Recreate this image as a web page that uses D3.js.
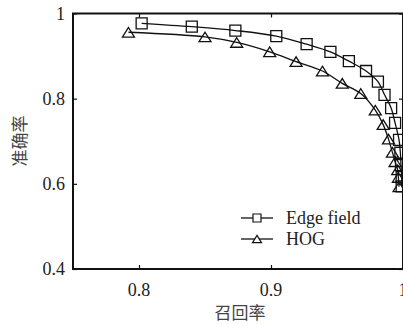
<!DOCTYPE html>
<html>
<head>
<meta charset="utf-8">
<script src="https://cdn.jsdelivr.net/npm/d3@7"></script>
<style>
  body { margin: 0; background: #fff; }
  svg { display: block; }
</style>
</head>
<body>
<svg id="chart"></svg>
<script>
// recall (x) / precision (y) pairs
var edgeRecall = [0.802, 0.840, 0.873, 0.904, 0.927, 0.945, 0.959, 0.972, 0.981, 0.986, 0.991, 0.994, 0.997, 0.998, 0.9985, 0.999, 0.999];
var edgePrecision = [0.977, 0.969, 0.960, 0.947, 0.928, 0.910, 0.888, 0.865, 0.840, 0.809, 0.778, 0.743, 0.703, 0.673, 0.644, 0.616, 0.594];
var hogRecall = [0.792, 0.850, 0.874, 0.899, 0.919, 0.939, 0.954, 0.968, 0.979, 0.985, 0.989, 0.992, 0.994, 0.996, 0.9965, 0.997];
var hogPrecision = [0.956, 0.945, 0.932, 0.910, 0.887, 0.865, 0.836, 0.812, 0.773, 0.739, 0.705, 0.674, 0.652, 0.633, 0.615, 0.593];
var xTicks = [0.8, 0.9, 1];
var yTicks = [0.4, 0.6, 0.8, 1];
var seriesNames = ['Edge field', 'HOG'];

var width = 403, height = 325;
var serif = 'Liberation Serif, DejaVu Serif, serif';
var cjk = 'Noto Sans CJK SC';
var svg = d3.select('#chart').attr('width', width).attr('height', height);

var x = d3.scaleLinear().domain([0.75, 1]).range([73, 403]);
var y = d3.scaleLinear().domain([0.4, 1]).range([269, 13.5]);

var fmt = d => d === 1 ? '1' : d3.format('.1f')(d);

// axes, ticks pointing into the plot
svg.append('g')
    .attr('transform', `translate(0, ${y(0.4)})`)
    .call(d3.axisTop(x).tickValues(xTicks).tickSize(4).tickFormat(''))
    .call(g => g.select('.domain').remove());
svg.append('g')
    .attr('transform', `translate(0, ${y(1)})`)
    .call(d3.axisBottom(x).tickValues(xTicks).tickSize(4).tickFormat(''))
    .call(g => g.select('.domain').remove());
svg.append('g')
    .attr('transform', `translate(${x(0.75)}, 0)`)
    .call(d3.axisRight(y).tickValues(yTicks).tickSize(4).tickFormat(''))
    .call(g => g.select('.domain').remove());
svg.append('g')
    .attr('transform', `translate(${x(1)}, 0)`)
    .call(d3.axisLeft(y).tickValues(yTicks).tickSize(4).tickFormat(''))
    .call(g => g.select('.domain').remove());
svg.selectAll('.tick line').attr('stroke', '#111').attr('stroke-width', 1.2);

svg.append('rect')
    .attr('x', x(0.75)).attr('y', y(1))
    .attr('width', x(1) - x(0.75)).attr('height', y(0.4) - y(1))
    .attr('fill', 'none').attr('stroke', '#111').attr('stroke-width', 2);

// tick labels
svg.append('g').selectAll('text')
    .data(xTicks).enter().append('text')
    .attr('x', d => x(d)).attr('y', 296)
    .attr('text-anchor', 'middle')
    .attr('font-family', serif)
    .attr('font-size', 18)
    .attr('fill', '#222')
    .text(fmt);
svg.append('g').selectAll('text')
    .data(yTicks).enter().append('text')
    .attr('x', 65).attr('y', d => y(d) + 6)
    .attr('text-anchor', 'end')
    .attr('font-family', serif)
    .attr('font-size', 18)
    .attr('fill', '#222')
    .text(fmt);

svg.append('text')
    .attr('x', 240).attr('y', 319)
    .attr('text-anchor', 'middle')
    .attr('font-family', cjk)
    .attr('font-size', 17)
    .attr('fill', '#444')
    .text('召回率');
svg.append('text')
    .attr('transform', `translate(26, 141) rotate(-90)`)
    .attr('text-anchor', 'middle')
    .attr('font-family', cjk)
    .attr('font-size', 17)
    .attr('fill', '#444')
    .text('准确率');

// series
var line = d3.line().x(d => x(d[0])).y(d => y(d[1])).curve(d3.curveCatmullRom);
var edgeData = d3.zip(edgeRecall, edgePrecision);
var hogData = d3.zip(hogRecall, hogPrecision);

var square = (s) => d3.symbol().type(d3.symbolSquare).size(s * s);
var tri = function (w) {
    var h = w * 0.8;
    return `M${-w / 2},${h / 2}L${w / 2},${h / 2}L0,${-h / 2}Z`;
};

[edgeData, hogData].forEach(function (data, i) {
    svg.append('path')
        .datum(data)
        .attr('d', line)
        .attr('fill', 'none')
        .attr('stroke', '#111')
        .attr('stroke-width', 1.3);
    svg.append('g').selectAll('path')
        .data(data).enter().append('path')
        .attr('transform', d => `translate(${x(d[0])}, ${y(d[1])})`)
        .attr('d', i === 0 ? square(11)() : tri(12))
        .attr('fill', 'none')
        .attr('stroke', '#111')
        .attr('stroke-width', 1.3);
});

// legend
var legend = svg.append('g').attr('transform', 'translate(241, 218)');
seriesNames.forEach(function (name, i) {
    var row = legend.append('g').attr('transform', `translate(0, ${i * 21})`);
    row.append('line')
        .attr('x1', 0).attr('x2', 32).attr('y1', 0).attr('y2', 0)
        .attr('stroke', '#111').attr('stroke-width', 1.3);
    row.append('path')
        .attr('transform', 'translate(16, 0)')
        .attr('d', i === 0 ? square(8)() : tri(9))
        .attr('fill', '#fff')
        .attr('stroke', '#111')
        .attr('stroke-width', 1.2);
    row.append('text')
        .attr('x', 45).attr('y', 6)
        .attr('font-family', serif)
        .attr('font-size', 18)
        .attr('fill', '#222')
        .text(name);
});
</script>
</body>
</html>
